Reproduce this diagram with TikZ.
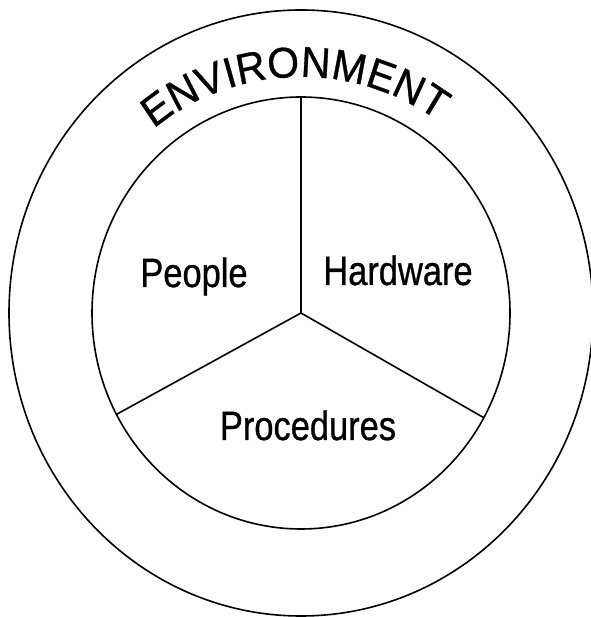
\documentclass[tikz,border=0pt]{standalone}
\usepackage{fontspec}
\setmainfont{Liberation Sans}
\newfontfamily\labelfont{Liberation Sans}[FakeBold=0.8]
\usetikzlibrary{calc}
\tikzset{
  ring/.style={draw=black, line width=1.6pt},
  divider/.style={draw=black, line width=1.6pt},
  label/.style={font=\labelfont\fontsize{41}{46}\selectfont, anchor=base, inner sep=0pt, xscale=0.84},
  envletter/.style={font=\labelfont\fontsize{43}{48}\selectfont, anchor=base, inner sep=0pt, xscale=0.95}
}
\begin{document}
\begin{tikzpicture}[x=1pt,y=1pt]
\useasboundingbox (0,0) rectangle (590,617);
\coordinate (c) at (301,304);
% outer and inner rings
\draw[ring] (c) ellipse [x radius=292, y radius=303];
\draw[ring] (c) ellipse [x radius=209, y radius=216];
% divider end points on inner ring
\coordinate (top) at ($(c)+(0,216)$);
\coordinate (left) at ($(c)+({209*cos(208)},{216*sin(208)})$);
\coordinate (right) at ($(c)+({209*cos(331)},{216*sin(331)})$);
\draw[divider] (c) -- (top);
\draw[divider] (c) -- (left);
\draw[divider] (c) -- (right);
% labels
\node[label] (people) at (194,330) {People};
\node[label] (hardware) at (398,332) {Hardware};
\node[label] (procedures) at (308,177) {Procedures};
% curved text, one letter at a time
\foreach \ch/\ang [count=\i] in {E/-35.3, N/-28.3, V/-21.4, I/-16.6, R/-11.6, O/-4.1, N/3.4, M/11.2, E/18.8, N/25.7, T/32.4}
  \node[envletter, rotate=-\ang] (env\i) at ($(c)+({90-\ang}:236)$) {\ch};
\end{tikzpicture}
\end{document}
